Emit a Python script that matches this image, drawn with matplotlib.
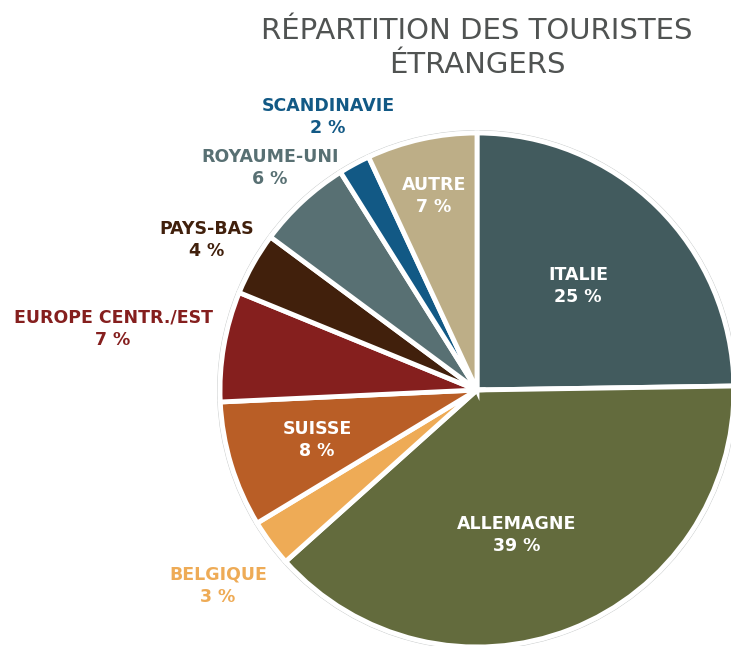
import matplotlib
matplotlib.use('Agg')
from matplotlib import pyplot as plt

# data
pays = ['ITALIE', 'ALLEMAGNE', 'BELGIQUE', 'SUISSE', 'EUROPE CENTR./EST',
        'PAYS-BAS', 'ROYAUME-UNI', 'SCANDINAVIE', 'AUTRE']
parts = [25, 39, 3, 8, 7, 4, 6, 2, 7]
couleurs = ['#425b5e', '#636b3d', '#eeab56', '#b95e26', '#851f1e',
            '#41200c', '#587073', '#125985', '#bdae87']

# label positions in pixels (x, y from top), and whether label is inside the slice
label_pos = [(578, 286), (517, 535), (218, 586), (317, 440), (113, 329),
             (207, 240), (270, 168), (328, 117), (434, 196)]
inside = [True, True, False, True, False, False, False, False, True]

W, H = 731, 646
fig = plt.figure(figsize=(W/100, H/100), dpi=100)
ax = fig.add_axes([0, 0, 1, 1])

cx, cy, R = 477, H - 390, 257

# thin faded outline around each slice
ax.pie(parts, colors=['none']*len(parts), startangle=90, counterclock=False,
       radius=R + 2.5, center=(cx, cy),
       wedgeprops=dict(linewidth=0.6, edgecolor='#c9cccc', facecolor='none'))
# slices with white gaps
ax.pie(parts, colors=couleurs, startangle=90, counterclock=False,
       radius=R, center=(cx, cy),
       wedgeprops=dict(linewidth=3.5, edgecolor='white'))

ax.set_xlim(0, W)
ax.set_ylim(0, H)
ax.set_aspect('equal')
ax.axis('off')

for nom, p, c, (x, y), dedans in zip(pays, parts, couleurs, label_pos, inside):
    col = 'white' if dedans else c
    ax.text(x, H - y, nom + '\n' + str(p) + ' %', ha='center', va='center',
            color=col, fontsize=12.5, fontweight='bold', family='DejaVu Sans',
            linespacing=1.35)

fig.text(477/W, 1 - 48/H, 'RÉPARTITION DES TOURISTES\nÉTRANGERS', ha='center',
         va='center', fontsize=21, color='#505352', family='DejaVu Sans',
         linespacing=1.25)

fig.savefig('out.png', dpi=100)
